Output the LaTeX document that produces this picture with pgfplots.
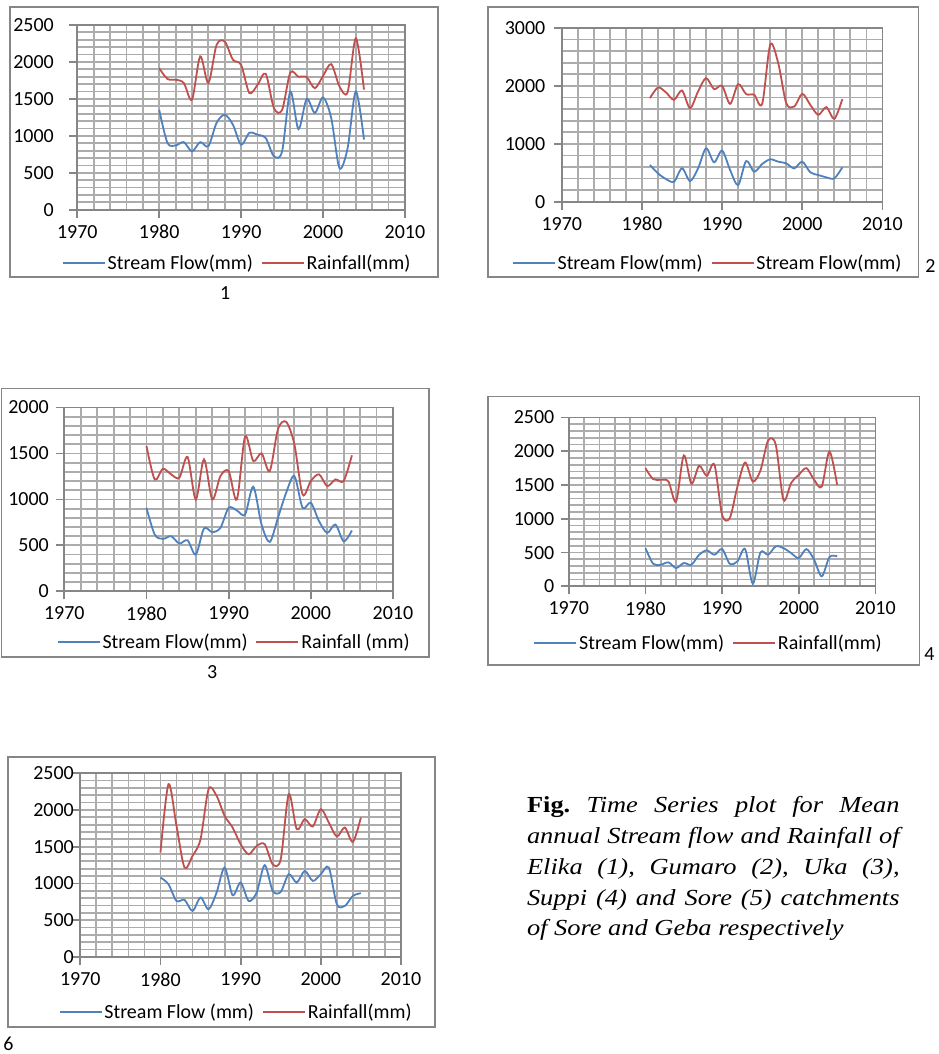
\documentclass[border=0pt]{standalone}
\usepackage{pgfplots}
\pgfplotsset{compat=1.18}
\usepackage{fontspec}
\setmainfont{Carlito}
\newfontfamily\capfont[FakeStretch=1.15]{Liberation Serif}
\definecolor{sfblue}{RGB}{79,129,189}
\definecolor{rfred}{RGB}{192,80,77}
\definecolor{gridc}{RGB}{172,172,172}
\definecolor{axisc}{RGB}{134,134,134}
\newcommand{\cf}{\fontsize{20}{24}\selectfont}
\pgfplotsset{
 exstyle/.style={
  scale only axis, xmin=1970, xmax=2010, ymin=0,
  xtick={1970,1980,...,2010},
  minor x tick num=4, minor y tick num=4,
  grid=both,
  major grid style={gridc, line width=1.8pt},
  minor grid style={gridc, line width=1.8pt},
  axis line style={axisc, line width=1.8pt, -},
  tick style={axisc, line width=1.8pt},
  major tick length=8pt, minor tick length=0pt,
  tick align=outside, xtick pos=left, ytick pos=left,
  tick label style={font=\cf, black},
  x tick label style={yshift=-4pt},
  /pgf/number format/1000 sep={},
  /pgf/number format/assume math mode=true,
  legend columns=2,
  legend style={draw=none, fill=none, anchor=center, font=\cf,
    inner sep=0pt, /tikz/every even column/.append style={column sep=6pt},
    nodes={inner xsep=2pt}},
  legend image code/.code={\draw[##1, line width=1.8pt] (0pt,0pt) -- (42pt,0pt);},
  every axis plot/.append style={line width=1.8pt, smooth, tension=0.5, no marks},
 }
}
\begin{document}
\begin{tikzpicture}
\fill[white] (0pt,0pt) rectangle (938pt,1054pt);
% outer frames
\draw[axisc, line width=1.8pt] (10pt,1047pt) rectangle (438pt,777pt);
\draw[axisc, line width=1.8pt] (488pt,1047pt) rectangle (919pt,777pt);
\draw[axisc, line width=1.8pt] (1pt,665pt) rectangle (429pt,396pt);
\draw[axisc, line width=1.8pt] (488pt,657pt) rectangle (920pt,388pt);
\draw[axisc, line width=1.8pt] (8pt,296pt) rectangle (435pt,26pt);

% ---------- Chart 1 ----------
\begin{axis}[exstyle, at={(77pt,844pt)}, anchor=south west,
  width=328pt, height=185pt, ymax=2500, ytick={0,500,...,2500},
  y tick label style={xshift=-12pt},
  legend style={at={(0.488,-0.286)}}]
\addplot[sfblue] coordinates {(1980,1350)(1981,905)(1982,870)(1983,915)(1984,790)(1985,915)(1986,860)(1987,1175)(1988,1285)(1989,1150)(1990,880)(1991,1040)(1992,1015)(1993,970)(1994,725)(1995,790)(1996,1600)(1997,1090)(1998,1500)(1999,1310)(2000,1520)(2001,1240)(2002,565)(2003,835)(2004,1600)(2005,950)};
\addplot[rfred] coordinates {(1980,1915)(1981,1770)(1982,1760)(1983,1715)(1984,1490)(1985,2075)(1986,1715)(1987,2230)(1988,2275)(1989,2030)(1990,1960)(1991,1580)(1992,1690)(1993,1840)(1994,1375)(1995,1350)(1996,1855)(1997,1800)(1998,1795)(1999,1645)(2000,1810)(2001,1970)(2002,1670)(2003,1590)(2004,2320)(2005,1625)};
\legend{Stream Flow(mm),Rainfall(mm)}
\end{axis}

% ---------- Chart 2 ----------
\begin{axis}[exstyle, at={(562pt,852pt)}, anchor=south west,
  width=321pt, height=174pt, ymax=3000, ytick={0,1000,2000,3000},
  y tick label style={xshift=-5pt},
  legend style={at={(0.455,-0.351)}}]
\addplot[sfblue] coordinates {(1981,635)(1982,490)(1983,392)(1984,346)(1985,577)(1986,358)(1987,577)(1988,923)(1989,681)(1990,883)(1991,548)(1992,288)(1993,704)(1994,519)(1995,652)(1996,733)(1997,692)(1998,663)(1999,577)(2000,692)(2001,508)(2002,462)(2003,421)(2004,404)(2005,594)};
\addplot[rfred] coordinates {(1981,1790)(1982,1973)(1983,1887)(1984,1760)(1985,1921)(1986,1616)(1987,1904)(1988,2135)(1989,1944)(1990,2002)(1991,1690)(1992,2031)(1993,1858)(1994,1846)(1995,1690)(1996,2712)(1997,2394)(1998,1702)(1999,1644)(2000,1864)(2001,1673)(2002,1500)(2003,1633)(2004,1431)(2005,1771)};
\legend{Stream Flow(mm),Stream Flow(mm)}
\end{axis}

% ---------- Chart 3 ----------
\begin{axis}[exstyle, at={(64pt,462pt)}, anchor=south west,
  width=329pt, height=184pt, ymax=2000, ytick={0,500,...,2000},
  y tick label style={xshift=-4pt},
  legend style={at={(0.517,-0.277)}}]
\addplot[sfblue] coordinates {(1980,909)(1981,618)(1982,571)(1983,600)(1984,520)(1985,556)(1986,400)(1987,684)(1988,644)(1989,691)(1990,909)(1991,880)(1992,836)(1993,1138)(1994,727)(1995,538)(1996,800)(1997,1073)(1998,1254)(1999,909)(2000,964)(2001,764)(2002,636)(2003,727)(2004,545)(2005,662)};
\addplot[rfred] coordinates {(1980,1582)(1981,1218)(1982,1334)(1983,1273)(1984,1236)(1985,1462)(1986,1000)(1987,1436)(1988,1000)(1989,1254)(1990,1309)(1991,1000)(1992,1684)(1993,1418)(1994,1502)(1995,1309)(1996,1764)(1997,1844)(1998,1600)(1999,1054)(2000,1200)(2001,1273)(2002,1145)(2003,1218)(2004,1200)(2005,1480)};
\legend{Stream Flow(mm),Rainfall (mm)}
\end{axis}

% ---------- Chart 4 ----------
\begin{axis}[exstyle, at={(569pt,467pt)}, anchor=south west,
  width=307pt, height=169pt, ymax=2500, ytick={0,500,...,2500},
  y tick label style={xshift=-3pt},
  legend style={at={(0.456,-0.337)}}]
\addplot[sfblue] coordinates {(1980,567)(1981,335)(1982,320)(1983,355)(1984,271)(1985,345)(1986,320)(1987,468)(1988,533)(1989,468)(1990,552)(1991,335)(1992,370)(1993,552)(1994,40)(1995,503)(1996,468)(1997,592)(1998,567)(1999,493)(2000,419)(2001,552)(2002,394)(2003,148)(2004,434)(2005,444)};
\addplot[rfred] coordinates {(1980,1750)(1981,1588)(1982,1578)(1983,1553)(1984,1257)(1985,1938)(1986,1519)(1987,1785)(1988,1637)(1989,1800)(1990,1060)(1991,1011)(1992,1479)(1993,1834)(1994,1553)(1995,1716)(1996,2160)(1997,2096)(1998,1282)(1999,1529)(2000,1652)(2001,1750)(2002,1578)(2003,1479)(2004,1997)(2005,1504)};
\legend{Stream Flow(mm),Rainfall(mm)}
\end{axis}

% ---------- Chart 6 ----------
\begin{axis}[exstyle, at={(80pt,96pt)}, anchor=south west,
  width=321pt, height=184pt, ymax=2500, ytick={0,500,...,2500},
  y tick label style={xshift=5pt},
  legend style={at={(0.486,-0.299)}}]
\addplot[sfblue] coordinates {(1980,1080)(1981,989)(1982,762)(1983,776)(1984,626)(1985,808)(1986,649)(1987,876)(1988,1216)(1989,839)(1990,1012)(1991,762)(1992,876)(1993,1248)(1994,898)(1995,885)(1996,1125)(1997,1012)(1998,1170)(1999,1034)(2000,1125)(2001,1216)(2002,717)(2003,694)(2004,830)(2005,867)};
\addplot[rfred] coordinates {(1980,1420)(1981,2350)(1982,1783)(1983,1216)(1984,1375)(1985,1602)(1986,2282)(1987,2191)(1988,1919)(1989,1760)(1990,1534)(1991,1397)(1992,1511)(1993,1534)(1994,1261)(1995,1329)(1996,2214)(1997,1738)(1998,1874)(1999,1774)(2000,2010)(2001,1828)(2002,1638)(2003,1760)(2004,1565)(2005,1896)};
\legend{Stream Flow (mm),Rainfall(mm)}
\end{axis}

% panel numbers
\node[font=\cf] at (225pt,761pt) {1};
\node[font=\cf] at (931pt,788pt) {2};
\node[font=\cf] at (212pt,381pt) {3};
\node[font=\cf] at (930pt,399pt) {4};
\node[font=\cf] at (8pt,9pt) {6};

% caption
\node[anchor=base west, inner sep=0pt] at (527pt,241pt) {\parbox[t]{373pt}{\frenchspacing\capfont\fontsize{23}{31}\selectfont
\textbf{Fig.} \textit{Time Series plot for Mean\linebreak
annual Stream flow and Rainfall of\linebreak
Elika (1), Gumaro (2), Uka (3),\linebreak
Suppi (4) and Sore (5) catchments\linebreak
of Sore and Geba respectively}}};
\end{tikzpicture}
\end{document}
